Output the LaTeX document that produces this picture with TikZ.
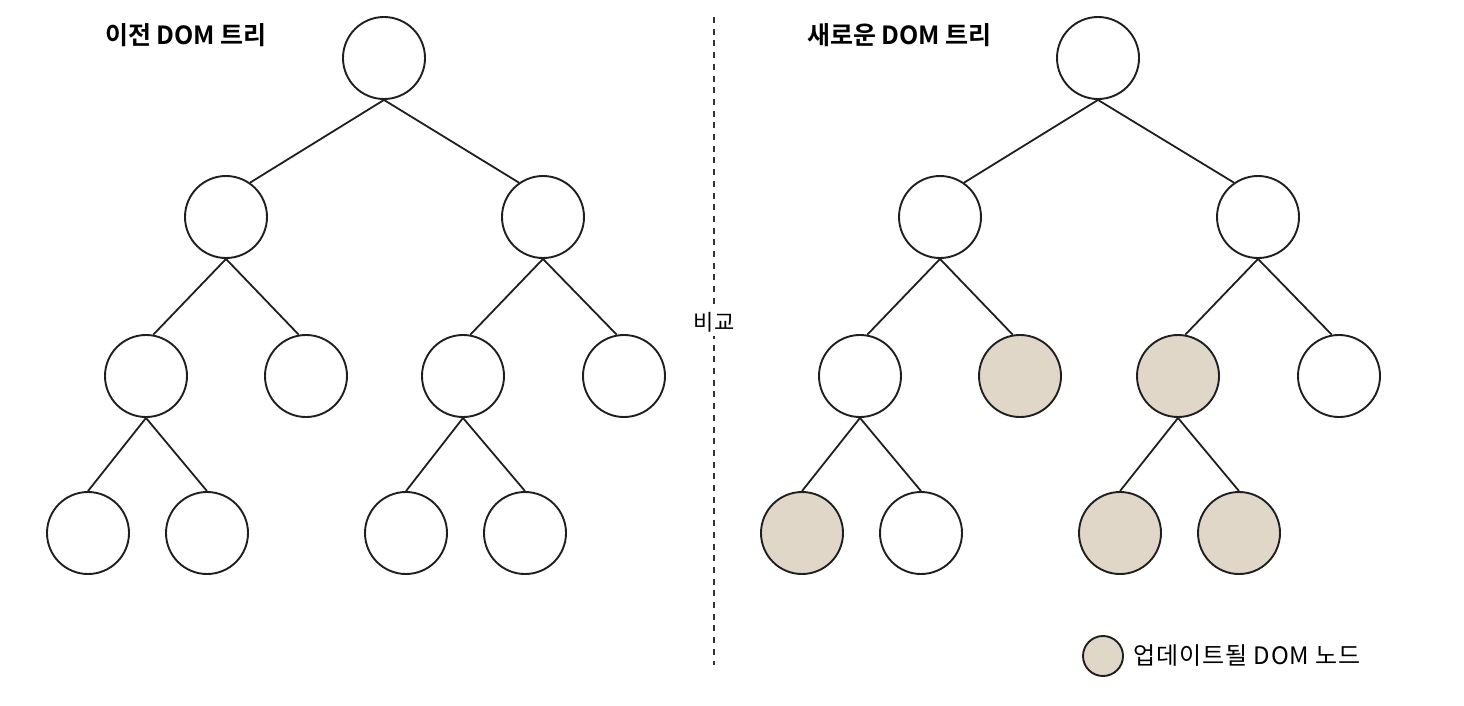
\documentclass[tikz,border=0pt]{standalone}
\usepackage{fontspec}
\newfontfamily\kr{Noto Sans CJK KR}
\newfontfamily\krb{Noto Sans CJK KR Bold}
\newfontfamily\krl[LetterSpace=4]{Noto Sans CJK KR}
\definecolor{upd}{HTML}{E0D7C9}
\begin{document}
\begin{tikzpicture}[x=1pt,y=-1pt,
  tn/.style={circle,draw=black!88,line width=1.9pt,minimum size=82pt,inner sep=0pt,fill=white},
  un/.style={tn,fill=upd},
  edge/.style={line width=1.8pt,black!88},
  ttl/.style={font=\krb\fontsize{25}{29}\selectfont,anchor=west,inner sep=0pt}]
\useasboundingbox (0,0) rectangle (1464,705);
% left tree
\node[tn] (a) at (384,58) {};
\node[tn] (b) at (226,217) {};
\node[tn] (c) at (543,217) {};
\node[tn] (d) at (146,376) {};
\node[tn] (e) at (306,376) {};
\node[tn] (f) at (463,376) {};
\node[tn] (g) at (624,376) {};
\node[tn] (h) at (88,533) {};
\node[tn] (i) at (207,533) {};
\node[tn] (j) at (406,533) {};
\node[tn] (k) at (525,533) {};
\draw[edge] (a.south) -- (b.55);
\draw[edge] (a.south) -- (c.125);
\foreach \p/\q in {b/d,c/f}
  \draw[edge] (\p.south) -- (\q.80);
\foreach \p/\q in {b/e,c/g}
  \draw[edge] (\p.south) -- (\q.100);
\foreach \p/\q in {d/h,d/i,f/j,f/k}
  \draw[edge] (\p.south) -- (\q.north);
% right tree
\node[tn] (A) at (1098,58) {};
\node[tn] (B) at (940,217) {};
\node[tn] (C) at (1258,217) {};
\node[tn] (D) at (860,376) {};
\node[un] (E) at (1020,376) {};
\node[un] (F) at (1178,376) {};
\node[tn] (G) at (1339,376) {};
\node[un] (H) at (802,533) {};
\node[tn] (I) at (921,533) {};
\node[un] (J) at (1120,533) {};
\node[un] (K) at (1239,533) {};
\draw[edge] (A.south) -- (B.55);
\draw[edge] (A.south) -- (C.125);
\foreach \p/\q in {B/D,C/F}
  \draw[edge] (\p.south) -- (\q.80);
\foreach \p/\q in {B/E,C/G}
  \draw[edge] (\p.south) -- (\q.100);
\foreach \p/\q in {D/H,D/I,F/J,F/K}
  \draw[edge] (\p.south) -- (\q.north);
% titles
\node[ttl] (t1) at (105,35) {이전 DOM 트리};
\node[ttl] (t2) at (807,35) {새로운 DOM 트리};
% divider
\coordinate (top) at (714,17);
\coordinate (bot) at (714,665);
\draw[line width=2.2pt,dash pattern=on 6pt off 5.7pt,black!80] (top) -- (bot);
\node[fill=white,inner sep=4pt,font=\kr\fontsize{22}{26}\selectfont] (cmp) at (714,322) {비교};
% legend
\node[un,minimum size=40pt] (lg) at (1103,656) {};
\node[anchor=west,inner sep=0pt,font=\krl\fontsize{24}{28}\selectfont] (lt) at ([xshift=9pt]lg.east) {업데이트될 DOM 노드};
\end{tikzpicture}
\end{document}
